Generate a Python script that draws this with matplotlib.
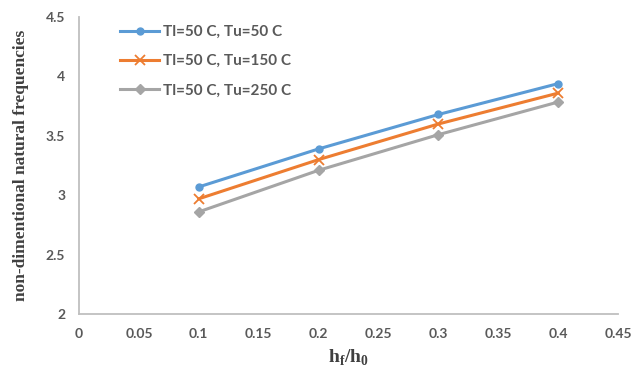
import matplotlib.pyplot as plt

# Données : fréquences naturelles adimensionnelles en fonction de hf/h0
ratio = [0.1, 0.2, 0.3, 0.4]
freq_tu50 = [3.07, 3.39, 3.68, 3.94]
freq_tu150 = [2.97, 3.30, 3.60, 3.86]
freq_tu250 = [2.86, 3.21, 3.51, 3.785]

labels = ["Tl=50 C, Tu=50 C", "Tl=50 C, Tu=150 C", "Tl=50 C, Tu=250 C"]
x_ticks = [0, 0.05, 0.1, 0.15, 0.2, 0.25, 0.3, 0.35, 0.4, 0.45]
y_ticks = [2, 2.5, 3, 3.5, 4, 4.5]

fig = plt.figure(figsize=(6.44, 3.72), dpi=100)
ax = fig.add_axes([0.1227, 0.156, 0.837, 0.798])

ax.plot(ratio, freq_tu50, color="#5B9BD5", lw=2.2, marker="o", ms=5, label=labels[0])
ax.plot(ratio, freq_tu150, color="#ED7D31", lw=2.2, marker="x", ms=7, mew=1.3, label=labels[1])
ax.plot(ratio, freq_tu250, color="#A5A5A5", lw=2.2, marker="D", ms=5, label=labels[2])

ax.set_xlim(0, 0.45)
ax.set_ylim(2, 4.5)
ax.set_xticks(x_ticks)
ax.set_xticklabels([f"{v:g}" for v in x_ticks])
ax.set_yticks(y_ticks)
ax.set_yticklabels([f"{v:g}" for v in y_ticks])

for s in ["top", "right"]:
    ax.spines[s].set_visible(False)
for s in ["left", "bottom"]:
    ax.spines[s].set_color("#BFBFBF")
    ax.spines[s].set_linewidth(1.3)

ax.tick_params(length=0, pad=10, labelcolor="#595959")
for lab in ax.get_xticklabels() + ax.get_yticklabels():
    lab.set_fontfamily("Lato")
    lab.set_fontweight("bold")
    lab.set_fontsize(10)

ax.set_ylabel("non-dimentional natural frequencies", fontfamily="Liberation Serif",
              fontweight="bold", fontsize=12.5, color="#404040", labelpad=12)
ax.set_xlabel(r"h$_\mathregular{f}$/h$_\mathregular{0}$", fontfamily="Liberation Serif",
              fontweight="bold", fontsize=14, color="#404040", labelpad=6)

leg = ax.legend(loc="upper left", bbox_to_anchor=(0.05, 1.02), frameon=False,
                handlelength=2.6, labelspacing=1.0, handletextpad=0.25,
                prop={"family": "Lato", "weight": "bold", "size": 11})
for t in leg.get_texts():
    t.set_color("#595959")

fig.savefig("out.png", dpi=100)
